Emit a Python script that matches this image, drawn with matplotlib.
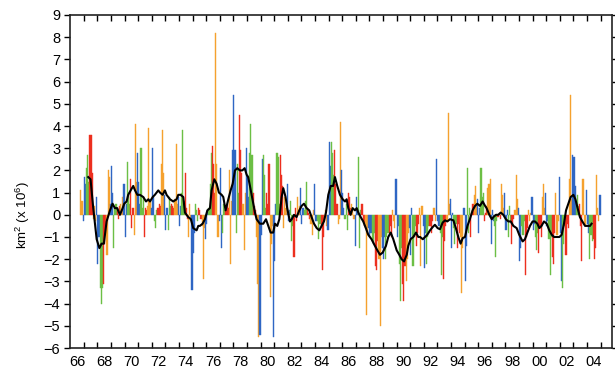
import numpy as np
import matplotlib
matplotlib.use("Agg")
import matplotlib.pyplot as plt
from matplotlib.ticker import FixedLocator

plt.rcParams['font.family'] = ['Liberation Sans', 'DejaVu Sans']
plt.rcParams['mathtext.fontset'] = 'custom'
plt.rcParams['mathtext.rm'] = 'Liberation Sans'
plt.rcParams['mathtext.it'] = 'Liberation Sans:italic'

# ---- monthly anomalies (km^2 x 10^6), first value = April 1966 ----
start_year, start_month = 1966, 4

anom_1960s = [
    1.1, 0.6, -0.3, 1.7, 1.4, 2.1, 2.7, 1.5, 3.6,                       # 1966 Apr-Dec
    3.6, 1.9, -0.2, 0.4, -0.3, 0.8, -2.2, -1.0, -3.3, -4.0, -3.3, -3.1,   # 1967
    -1.3, -0.5, -1.8, 2.0, 1.7, 0.5, 2.2, 1.0, -1.5, 0.3, 0.5, 0.3,       # 1968
    -0.2, 0.4, 0.5, 0.2, 0.8, 1.4, -1.0, 0.5, 2.4, 1.0, 0.5, 1.6,         # 1969
]
anom_1970s = [
    -0.6, 0.3, -0.9, 4.1, 1.5, 2.8, 1.5, 0.5, 3.0, 0.3, 0.8, -1.0,        # 1970
    0.3, 0.2, 0.4, 3.9, 0.6, 0.3, 3.0, 0.8, -0.3, -0.6, 0.2, 0.3,         # 1971
    0.5, 0.4, 2.3, 3.8, 1.9, 0.9, -0.7, 0.3, -0.7, 0.8, 0.4, 0.5,         # 1972
    0.4, 0.3, 0.7, 3.2, 0.5, 0.8, -0.5, 0.4, 1.0, 3.8, 0.6, 1.9,          # 1973
    0.3, -0.2, -1.0, 0.5, -0.3, -3.4, -1.7, -0.8, 0.5, 0.2, -0.3, 0.3,    # 1974
    0.2, -0.2, -0.5, -2.9, -0.6, -1.1, -0.4, 0.2, 0.3, 1.4, 2.8, 3.1,     # 1975
    2.3, 1.0, 8.2, 2.3, -1.0, -0.3, 2.1, -1.5, -0.8, 0.5, 0.2, 0.4,       # 1976
    0.5, 0.3, 2.0, -2.2, 0.6, 2.9, 5.4, 2.9, -0.8, 2.3, 1.0, 4.5,         # 1977
    2.9, 1.9, 0.5, -1.6, 1.0, 3.0, 1.8, 0.8, 2.8, 4.1, 2.7, 1.0,          # 1978
    0.4, 0.2, -1.0, -3.1, -5.5, -5.4, -0.9, 2.5, 2.7, 1.8, 0.3, 1.0,      # 1979
]
anom_1980s = [
    0.5, 2.3, -3.7, -1.3, -0.5, -5.5, -2.1, 0.5, 2.8, 2.6, 0.5, 2.7,      # 1980
    1.8, 1.3, -0.6, 0.8, 0.3, 1.4, -0.3, 0.2, 0.6, -1.2, -0.5, -1.9,      # 1981
    0.3, -0.3, 0.8, 0.2, 0.4, 1.2, -0.4, 0.3, 0.2, 0.6, 1.5, 0.3,         # 1982
    0.1, -0.2, -0.4, -0.9, 0.2, 1.4, -0.3, -0.3, -0.3, -1.1, -0.4, -0.5,  # 1983
    -2.5, -1.0, -0.3, 0.2, -0.5, -0.7, 3.3, 2.2, 3.3, 2.8, 1.8, 2.9,      # 1984
    1.4, 0.5, -0.4, -0.2, 4.2, 2.0, 1.0, 0.3, -0.2, 0.5, -0.7, 1.0,       # 1985
    0.8, 0.3, 0.5, 0.2, -0.2, -1.4, 0.8, 0.2, 2.6, -1.5, 0.2, 0.5,        # 1986
    -0.3, -0.5, -0.6, -4.5, -0.8, -0.6, -1.0, -0.8, -1.2, -1.3, -0.8, -2.3,  # 1987
    -2.5, -1.2, -2.0, -5.0, -1.0, -1.5, -2.0, -1.0, -2.0, -1.0, -0.8, -0.8,  # 1988
    -0.5, -1.0, 0.2, -0.3, -0.6, 1.6, -1.0, -0.5, -2.2, -3.9, -1.5, -3.1,    # 1989
]
anom_1990s = [
    -3.9, -2.3, -3.0, -2.0, -0.8, -0.6, -1.8, 0.3, -2.3, -1.0, -0.5, -1.4,   # 1990
    -0.8, -0.4, 0.3, -2.3, 0.4, -0.5, -2.4, -0.8, -2.2, -1.0, -0.5, -0.5,    # 1991
    -0.8, -0.3, 0.3, 0.3, -0.3, 2.5, -0.3, -0.5, -0.8, -2.7, -1.0, -2.9,     # 1992
    -1.2, -0.5, -0.3, 4.6, 0.5, 0.7, -1.5, 0.1, -0.6, -1.3, -0.4, -1.5,      # 1993
    -0.4, -0.8, -1.0, -3.5, -1.5, 0.3, -3.0, -1.4, 2.1, -0.8, 0.3, -1.0,     # 1994
    0.1, 0.5, 0.9, 1.3, 0.5, 0.7, -0.8, 0.3, 2.1, 0.8, 1.0, -0.3,            # 1995
    0.1, 0.4, 1.2, 1.4, 1.6, -1.3, 0.2, -0.3, -0.5, -1.9, -0.3, -0.1,        # 1996
    0.1, -0.2, 1.4, 0.9, 0.3, 1.0, -0.7, 0.2, -1.0, 0.4, -0.3, -1.3,         # 1997
    -0.5, -0.2, 0.2, 1.8, 0.7, 0.3, -2.1, -1.5, -0.5, -0.9, -0.3, -2.7,      # 1998
    -1.0, -0.6, 0.2, -0.3, 0.1, 0.8, -0.7, -0.4, -1.0, -1.6, -0.8, -1.7,     # 1999
]
anom_2000s = [
    -0.5, -1.0, 0.8, 1.4, 0.3, 1.0, -0.5, -0.3, -1.1, -2.7, -1.0, -1.9,      # 2000
    -2.2, -0.8, 1.0, -0.9, -0.3, 1.7, -0.8, -3.0, -3.3, -1.3, -0.5, -1.8,    # 2001
    -0.4, -0.6, 1.6, 5.4, 0.7, 2.7, 2.6, 1.3, 0.6, 0.9, 0.4, 0.5,            # 2002
    -0.5, -2.1, 1.6, -0.4, -0.5, 1.1, -0.4, -0.8, -2.0, -0.9, -1.2, -1.1,    # 2003
    -2.0, -1.5, 1.8, 0.3, -0.3, 0.9,                                         # 2004 Jan-Jun
]

# ---- running mean curve (decimal year, value) ----
line_year = [
    1966.83, 1967.00, 1967.20, 1967.45, 1967.65, 1967.81, 1967.98, 1968.18, 1968.43, 1968.62,
    1968.79, 1968.96, 1969.16, 1969.36, 1969.48, 1969.65, 1969.77, 1969.95, 1970.14, 1970.27,
    1970.44, 1970.63, 1970.88, 1971.08, 1971.25, 1971.37, 1971.57, 1971.73, 1971.98, 1972.11,
    1972.30, 1972.47, 1972.59, 1972.84, 1973.08, 1973.33, 1973.45, 1973.62, 1973.82, 1973.94,
    1974.18, 1974.38, 1974.55, 1974.80, 1974.92, 1975.04, 1975.24, 1975.41, 1975.59, 1975.78,
    1975.90, 1976.10, 1976.27, 1976.44, 1976.64, 1976.76, 1976.93, 1977.13, 1977.30, 1977.45,
    1977.62, 1977.79, 1977.98, 1978.16, 1978.33, 1978.48, 1978.59, 1978.72, 1978.97, 1979.09,
    1979.21, 1979.45, 1979.70, 1979.90, 1980.07, 1980.24, 1980.43, 1980.56, 1980.73, 1980.88,
    1981.05, 1981.17, 1981.34, 1981.46, 1981.66, 1981.79, 1981.96, 1982.15, 1982.35, 1982.52,
    1982.69, 1982.89, 1983.08, 1983.25, 1983.43, 1983.63, 1983.82, 1983.99, 1984.16, 1984.31,
    1984.48, 1984.66, 1984.84, 1984.97, 1985.14, 1985.34, 1985.54, 1985.71, 1985.83, 1985.95,
    1986.12, 1986.27, 1986.44, 1986.57, 1986.69, 1986.86, 1987.05, 1987.24, 1987.42, 1987.66,
    1987.91, 1988.09, 1988.28, 1988.48, 1988.72, 1988.89, 1989.07, 1989.26, 1989.51, 1989.70,
    1989.87, 1990.05, 1990.25, 1990.36, 1990.53, 1990.73, 1990.93, 1991.10, 1991.23, 1991.43,
    1991.59, 1991.76, 1991.96, 1992.16, 1992.32, 1992.52, 1992.69, 1992.89, 1993.07, 1993.23,
    1993.43, 1993.68, 1993.86, 1994.04, 1994.21, 1994.36, 1994.53, 1994.71, 1994.89, 1995.09,
    1995.27, 1995.44, 1995.63, 1995.83, 1996.01, 1996.12, 1996.32, 1996.50, 1996.62, 1996.81,
    1996.98, 1997.16, 1997.35, 1997.54, 1997.72, 1997.89, 1998.09, 1998.33, 1998.52, 1998.77,
    1998.94, 1999.12, 1999.31, 1999.50, 1999.68, 1999.85, 2000.00, 2000.16, 2000.34, 2000.54,
    2000.73, 2000.91, 2001.08, 2001.27, 2001.47, 2001.64, 2001.81, 2001.96, 2002.13, 2002.30,
    2002.50, 2002.65, 2002.81, 2002.98, 2003.16, 2003.36, 2003.53, 2003.72, 2003.84,
]
line_val = [
    1.7, 1.6, 0.3, -1.1, -1.5, -1.3, -1.3, -0.3, 0.2, 0.5,
    0.3, 0.3, 0.0, 0.3, 0.5, 0.6, 0.9, 1.1, 1.3, 1.1,
    0.9, 0.9, 0.8, 0.6, 0.7, 0.6, 0.8, 0.9, 1.1, 1.0,
    0.9, 1.1, 0.9, 0.7, 0.6, 0.7, 0.9, 0.9, 0.8, 0.1,
    -0.1, -0.2, -0.6, -0.7, -0.5, -0.5, -0.4, -0.2, 0.2, 0.3,
    1.1, 1.6, 1.4, 1.0, 0.9, 0.8, 0.2, 0.7, 1.1, 1.4,
    2.0, 2.1, 2.0, 2.0, 2.1, 1.8, 1.7, 1.3, 0.5, 0.1,
    -0.2, -0.4, -0.4, -0.2, -0.5, -0.8, -0.8, -0.4, -0.5, -0.2,
    0.8, 1.2, 0.8, 0.3, -0.3, -0.2, 0.0, -0.1, 0.2, 0.4,
    0.5, 0.3, 0.2, -0.1, -0.4, -0.6, -0.7, -0.5, -0.3, 0.1,
    0.9, 1.3, 1.3, 1.7, 1.3, 0.9, 0.7, 0.6, 0.7, 0.3,
    0.0, 0.3, 0.2, 0.3, 0.1, -0.1, -0.3, -0.6, -0.9, -1.1,
    -1.4, -1.6, -1.8, -1.7, -1.4, -1.0, -0.8, -1.1, -1.6, -1.8,
    -2.0, -2.1, -1.8, -1.4, -1.1, -1.0, -0.8, -1.0, -1.0, -1.1,
    -1.0, -0.9, -0.7, -0.55, -0.45, -0.6, -0.65, -0.35, -0.25, -0.3,
    -0.2, -0.25, -0.6, -1.0, -1.3, -1.05, -1.0, -0.5, -0.2, 0.2,
    0.4, 0.5, 0.4, 0.6, 0.4, 0.3, 0.0, -0.2, -0.1, 0.0,
    0.0, 0.1, 0.0, -0.2, -0.3, -0.3, -0.5, -0.6, -0.9, -1.2,
    -1.1, -0.8, -0.5, -0.3, -0.3, -0.4, -0.6, -0.5, -0.3, -0.4,
    -0.7, -0.9, -1.0, -1.0, -1.0, -0.9, -0.4, 0.2, 0.5, 0.8,
    0.9, 0.7, 0.3, -0.1, -0.3, -0.5, -0.5, -0.5, -0.4,
]

label_years = list(range(1966, 2005, 2))
tick_labels = [f"{y % 100:02d}" for y in label_years]

season_colors = {
    'MAM': '#f5a12e',   # Mar-May
    'JJA': '#2f66c4',   # Jun-Aug
    'SON': '#6cbf45',   # Sep-Nov
    'DJF': '#ec2f1e',   # Dec-Feb
}
month_season = ['DJF', 'DJF', 'MAM', 'MAM', 'MAM', 'JJA', 'JJA', 'JJA',
                'SON', 'SON', 'SON', 'DJF']

anom = np.array(anom_1960s + anom_1970s + anom_1980s + anom_1990s + anom_2000s)
month_index = (start_month - 1) + np.arange(len(anom))
t = start_year + (month_index + 0.5) / 12.0
colors = [season_colors[month_season[m % 12]] for m in month_index]

fig = plt.figure(figsize=(6.15, 3.69), dpi=100)
ax = fig.add_axes([70 / 615, 21 / 369, 542 / 615, 333 / 369])

ax.bar(t, anom, width=1 / 12.0, color=colors, linewidth=0.3, edgecolor=colors)
ax.plot(line_year, line_val, color='black', lw=1.5, zorder=5)

ax.set_xlim(1965.49, 2005.34)
ax.set_ylim(-6, 9)
ax.set_yticks(range(-6, 10))

ax.set_xticks(label_years)
ax.set_xticklabels(tick_labels)
ax.xaxis.set_minor_locator(FixedLocator([y + 0.5 for y in range(1966, 2005)]))
ax.tick_params(axis='x', which='major', length=0, pad=5, labelsize=10.5)
ax.tick_params(axis='x', which='minor', direction='in', length=4.5, width=1,
               top=True, bottom=True)
ax.tick_params(axis='y', which='major', direction='out', length=4, width=1,
               left=True, right=True, labelright=False, labelsize=10.5, pad=3)

for sp in ax.spines.values():
    sp.set_linewidth(1.2)
    sp.set_color('#222222')

ax.set_ylabel('km$^2$ (x 10$^6$)', fontsize=9.5)
ax.yaxis.set_label_coords(-0.07, 0.40)

fig.savefig('out.png', dpi=100)
